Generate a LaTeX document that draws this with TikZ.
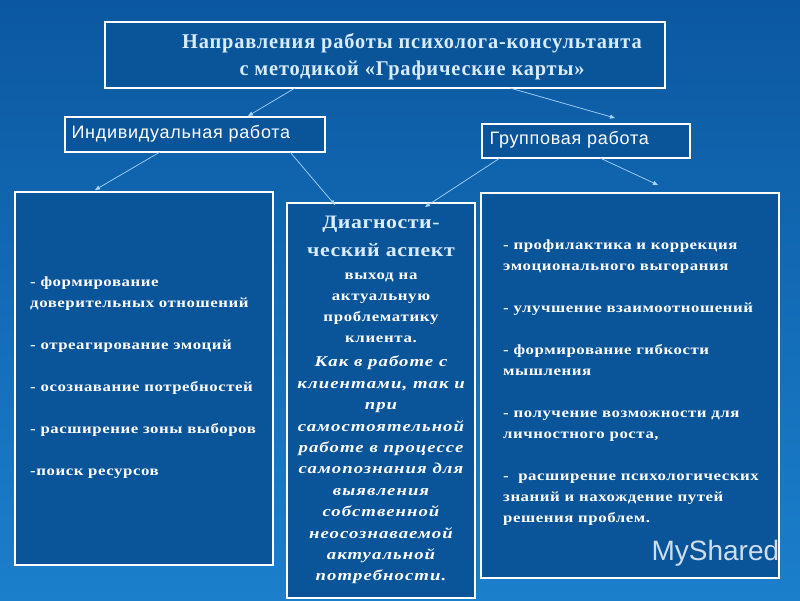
\documentclass[tikz,border=0pt]{standalone}
\usepackage{fontspec}
\setmainfont{Liberation Serif}
\newfontfamily\sansf{Liberation Sans}
\usetikzlibrary{arrows.meta}
\definecolor{bgtop}{HTML}{0B58A0}
\definecolor{bgbot}{HTML}{1B7FCC}
\definecolor{boxf}{HTML}{0A5499}
\definecolor{ttl}{HTML}{D8ECFF}
\definecolor{arr}{HTML}{A8D4FF}
\tikzset{
 bx/.style={draw=white, line width=2.5pt, fill=boxf},
 con/.style={draw=arr, line width=0.7pt, -{Triangle[length=5pt,width=4pt]}},
 txt/.style={text=white, font=\bfseries\fontsize{14}{21}\selectfont\addfontfeature{FakeStretch=1.2,LetterSpace=4}, inner sep=0pt},
 itx/.style={text=white, font=\bfseries\itshape\fontsize{15}{21.4}\selectfont\addfontfeature{FakeStretch=1.25,LetterSpace=7}, inner sep=0pt},
 lab/.style={text=white, font=\sansf\fontsize{18}{20}\selectfont\addfontfeature{LetterSpace=4}, anchor=west},
}
\begin{document}
\begin{tikzpicture}[x=1pt,y=-1pt]
\shade[top color=bgtop, bottom color=bgbot] (0,0) rectangle (800,600);
\useasboundingbox (0,0) rectangle (800,600);
\draw[bx] (105,22) rectangle (665,88);
\node[text=ttl, font=\bfseries\fontsize{21}{27}\selectfont\addfontfeature{FakeStretch=0.97,LetterSpace=4}, align=center] (title) at (412,57) {Направления работы психолога-консультанта\\с методикой «Графические карты»};
\draw[bx] (65,117) rectangle (325,152);
\node[lab] (ind) at (68,134) {Индивидуальная работа};
\draw[bx] (482,124) rectangle (690,158);
\node[lab] (grp) at (486,140) {Групповая работа};
\draw[bx] (15,192) rectangle (273,565);
\draw[bx] (287,203) rectangle (475,598);
\draw[bx] (481,193) rectangle (779,578);
\coordinate (t1) at (295,88); \coordinate (t1e) at (248,116);
\coordinate (t2) at (510,88); \coordinate (t2e) at (615,118);
\coordinate (i1) at (160,152); \coordinate (i1e) at (95,190);
\coordinate (i2) at (290,152); \coordinate (i2e) at (335,205);
\coordinate (g1) at (500,158); \coordinate (g1e) at (425,207);
\coordinate (g2) at (600,158); \coordinate (g2e) at (658,185);
\draw[con] (t1) -- (t1e); \draw[con] (t2) -- (t2e);
\draw[con] (i1) -- (i1e); \draw[con] (i2) -- (i2e);
\draw[con] (g1) -- (g1e); \draw[con] (g2) -- (g2e);
\node[txt, align=left, anchor=north west] (lt) at (30,277) {- формирование\\доверительных отношений\\[21pt]- отреагирование эмоций\\[21pt]- осознавание потребностей\\[21pt]- расширение зоны выборов\\[21pt]-поиск ресурсов};
\node[txt, align=center, font=\bfseries\fontsize{19}{28}\selectfont\addfontfeature{FakeStretch=1.15,LetterSpace=3}, text=ttl, anchor=north] (mh) at (381,216) {Диагности-\\ческий аспект};
\node[txt, align=center, anchor=north, font=\bfseries\fontsize{14}{21}\selectfont\addfontfeature{FakeStretch=1.2,LetterSpace=5}] (mt) at (381,273) {выход на\\актуальную\\проблематику\\клиента.};
\node[itx, align=center, anchor=north] (mi) at (381,356) {Как в работе с\\клиентами, так и\\при\\самостоятельной\\работе в процессе\\самопознания для\\выявления\\собственной\\неосознаваемой\\актуальной\\потребности.};
\node[txt, align=left, anchor=north west] (rt) at (503,240) {- профилактика и коррекция\\эмоционального выгорания\\[21pt]- улучшение взаимоотношений\\[21pt]- формирование гибкости\\мышления\\[21pt]- получение возможности для\\личностного роста,\\[21pt]-\ \ расширение психологических\\знаний и нахождение путей\\решения проблем.};
\node[text=white!80!boxf, font=\sansf\fontsize{28}{30}\selectfont, anchor=west] (wm) at (648,553) {MyShared};
\end{tikzpicture}
\end{document}
